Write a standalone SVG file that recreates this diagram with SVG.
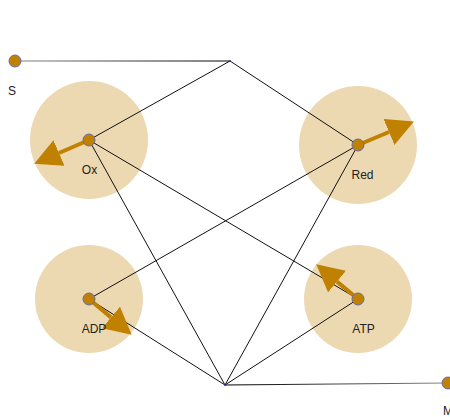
<svg xmlns="http://www.w3.org/2000/svg" width="450" height="417" viewBox="0 0 450 417">
  <style>
    .pool { fill: #ecd9b1; }
    .edge { stroke: #111; stroke-width: 1; fill: none; }
    .flux { stroke: #c08000; stroke-width: 4; fill: none; marker-end: url(#head); }
    .dot { fill: #c08000; stroke: #6a6aa8; stroke-width: 1; }
    .joint { fill: #2233cc; }
    .lbl { font-family: "Liberation Sans", Arial, sans-serif; font-size: 12px; fill: #222; text-anchor: middle; }
  </style>
  <defs>
    <marker id="head" markerUnits="userSpaceOnUse" markerWidth="28" markerHeight="30" refX="0" refY="14" orient="auto" viewBox="0 0 28 30">
      <path d="M0,0 L27,14 L0,28 z" fill="#c08000"/>
    </marker>
    <linearGradient id="fadeS" gradientUnits="userSpaceOnUse" x1="15" y1="61" x2="230" y2="61">
      <stop offset="0" stop-color="#888"/>
      <stop offset="1" stop-color="#000"/>
    </linearGradient>
    <linearGradient id="fadeM" gradientUnits="userSpaceOnUse" x1="225" y1="385" x2="448" y2="383">
      <stop offset="0" stop-color="#000"/>
      <stop offset="1" stop-color="#888"/>
    </linearGradient>
  </defs>

  <!-- pools -->
  <g id="pool-ox"><circle class="pool" cx="89" cy="140" r="59"/></g>
  <g id="pool-red"><circle class="pool" cx="358" cy="145" r="59"/></g>
  <g id="pool-adp"><circle class="pool" cx="89" cy="299" r="54"/></g>
  <g id="pool-atp"><circle class="pool" cx="358" cy="299" r="54"/></g>

  <!-- connectors -->
  <g id="connectors">
    <line x1="15" y1="61" x2="230" y2="61" stroke="url(#fadeS)" stroke-width="1.2"/>
    <line class="edge" x1="230" y1="61" x2="89" y2="140"/>
    <line class="edge" x1="230" y1="61" x2="358" y2="145"/>
    <line class="edge" x1="89" y1="140" x2="225" y2="385"/>
    <line class="edge" x1="89" y1="140" x2="358" y2="299"/>
    <line class="edge" x1="358" y1="145" x2="89" y2="299"/>
    <line class="edge" x1="358" y1="145" x2="225" y2="385"/>
    <line class="edge" x1="89" y1="299" x2="225" y2="385"/>
    <line class="edge" x1="358" y1="299" x2="225" y2="385"/>
    <line x1="225" y1="385" x2="448" y2="383" stroke="url(#fadeM)" stroke-width="1.2"/>
    <!-- flux arrows -->
    <line class="flux" x1="89" y1="140" x2="59" y2="153"/>
    <line class="flux" x1="358" y1="145" x2="389" y2="132"/>
    <line class="flux" x1="89" y1="299" x2="111" y2="317.4"/>
    <line class="flux" x1="358" y1="299" x2="337" y2="281.6"/>
  </g>

  <!-- nodes -->
  <g id="node-s"><circle class="dot" cx="15" cy="61" r="6"/><text class="lbl" x="12" y="95">S</text></g>
  <g id="node-ox"><circle class="dot" cx="89" cy="140" r="6"/><text class="lbl" x="89.5" y="174">Ox</text></g>
  <g id="node-red"><circle class="dot" cx="358" cy="145" r="6"/><text class="lbl" x="362.5" y="179">Red</text></g>
  <g id="node-adp"><circle class="dot" cx="89" cy="299" r="6"/><text class="lbl" x="94" y="333">ADP</text></g>
  <g id="node-atp"><circle class="dot" cx="358" cy="299" r="6"/><text class="lbl" x="363.5" y="333">ATP</text></g>
  <g id="node-m"><circle class="dot" cx="448" cy="383" r="6"/><text class="lbl" x="448" y="415">M</text></g>
  <g id="junction-top"><circle class="joint" cx="230" cy="61" r="1"/></g>
  <g id="junction-bottom"><circle class="joint" cx="225" cy="385" r="1"/></g>
</svg>
